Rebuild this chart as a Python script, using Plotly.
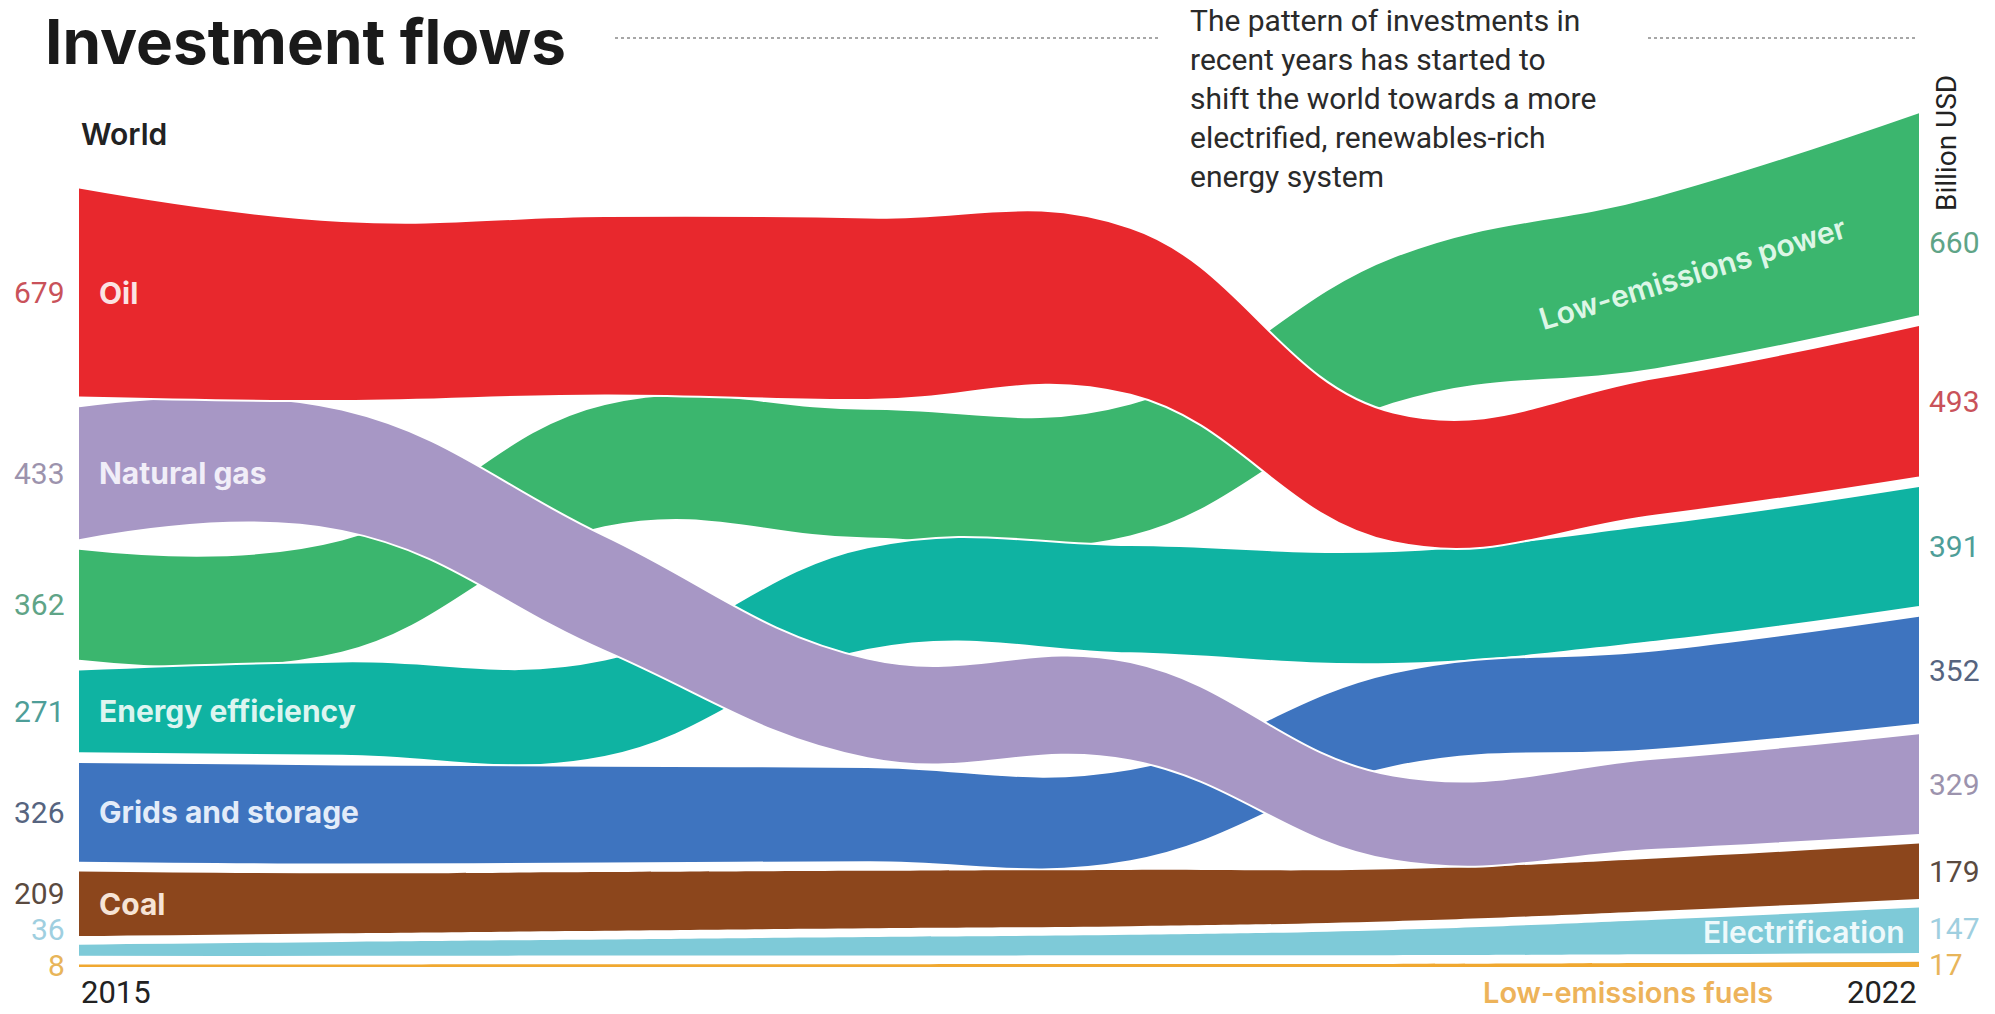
import plotly.graph_objects as go

# ---------------- data (billion USD) ----------------
years = [2015, 2016, 2017, 2018, 2019, 2020, 2021, 2022]

oil = [679, 582, 580, 590, 540, 420, 445, 493]
natural_gas = [433, 392, 372, 322, 318, 275, 295, 329]
low_emissions_power = [362, 366, 398, 420, 430, 475, 560, 660]
energy_efficiency = [271, 305, 315, 332, 350, 365, 380, 391]
grids_and_storage = [326, 324, 316, 308, 298, 305, 322, 352]
coal = [209, 194, 190, 186, 182, 168, 170, 179]
electrification = [36, 45, 52, 60, 66, 82, 112, 147]
low_emissions_fuels = [8, 8, 9, 9, 10, 10, 13, 17]

# stacking order (top to bottom) for each year
order_2015 = ["Oil", "Natural gas", "Low-emissions power", "Energy efficiency",
              "Grids and storage", "Coal", "Electrification", "Low-emissions fuels"]
order_2017 = ["Oil", "Low-emissions power", "Natural gas", "Energy efficiency",
              "Grids and storage", "Coal", "Electrification", "Low-emissions fuels"]
order_2018 = ["Oil", "Low-emissions power", "Energy efficiency", "Natural gas",
              "Grids and storage", "Coal", "Electrification", "Low-emissions fuels"]
order_2020 = ["Low-emissions power", "Oil", "Energy efficiency", "Grids and storage",
              "Natural gas", "Coal", "Electrification", "Low-emissions fuels"]
order_by_year = [order_2015, order_2015, order_2017, order_2018,
                 order_2018, order_2020, order_2020, order_2020]

values = {
    "Oil": oil,
    "Natural gas": natural_gas,
    "Low-emissions power": low_emissions_power,
    "Energy efficiency": energy_efficiency,
    "Grids and storage": grids_and_storage,
    "Coal": coal,
    "Electrification": electrification,
    "Low-emissions fuels": low_emissions_fuels,
}

# ---------------- styles ----------------
colors = {
    "Oil": "#E8282D",
    "Natural gas": "#A797C5",
    "Low-emissions power": "#3BB66E",
    "Energy efficiency": "#0FB3A2",
    "Grids and storage": "#3E74BF",
    "Coal": "#8C461C",
    "Electrification": "#7ECAD8",
    "Low-emissions fuels": "#F0A830",
}
value_colors = {
    "Oil": "#C9525A",
    "Natural gas": "#9C93AD",
    "Low-emissions power": "#5FA487",
    "Energy efficiency": "#4E9E98",
    "Grids and storage": "#56647F",
    "Coal": "#5A4A40",
    "Electrification": "#9FCFE0",
    "Low-emissions fuels": "#E8B55A",
}
label_colors = {
    "Oil": "#FBE3E3",
    "Natural gas": "#F1EEF8",
    "Energy efficiency": "#DDF5F0",
    "Grids and storage": "#E3ECF9",
    "Coal": "#F6E4D6",
    "Low-emissions power": "#DDF6E6",
    "Electrification": "#EEF9FB",
}
outlined = {"Oil", "Natural gas", "Low-emissions power", "Energy efficiency", "Grids and storage"}
draw_order = ["Low-emissions power", "Energy efficiency", "Grids and storage", "Coal",
              "Electrification", "Low-emissions fuels", "Natural gas", "Oil"]

GAP = 28  # gap between stacked ribbons (in value units)

# ---------------- geometry from data ----------------
W, H = 1995, 1014
PL, PR, PT, PB = 79, 1919, 60, 967
PX_PER_UNIT = 0.3093
YMAX = (PB - PT) / PX_PER_UNIT

bottoms = {c: [0.0] * len(years) for c in values}
tops = {c: [0.0] * len(years) for c in values}
for j, order in enumerate(order_by_year):
    y = 0.0
    for c in reversed(order):
        bottoms[c][j] = y
        tops[c][j] = y + values[c][j]
        y = tops[c][j] + GAP


def center(c, j):
    return (bottoms[c][j] + tops[c][j]) / 2


fig = go.Figure()
for c in draw_order:
    lw = 2 if c in outlined else 0
    line = dict(color="white", width=lw, shape="spline", smoothing=1.2)
    fig.add_trace(go.Scatter(x=years, y=tops[c], mode="lines", line=line,
                             hoverinfo="skip", showlegend=False))
    fig.add_trace(go.Scatter(x=years, y=bottoms[c], mode="lines", line=line,
                             fill="tonexty", fillcolor=colors[c],
                             hoverinfo="skip", showlegend=False))


def xp(px):
    return (px - PL) / (PR - PL)


def yp(py):
    return (PB - py) / (PB - PT)


annotations = []

# value labels on both sides
MIN_SEP = 36 / PX_PER_UNIT


def side_labels(j, xanchor, xshift, ymax=None):
    cats = sorted(values.keys(), key=lambda c: center(c, j))
    prev = None
    for c in cats:
        yv = center(c, j)
        if prev is not None and yv < prev + MIN_SEP:
            yv = prev + MIN_SEP
        if ymax is not None:
            yv = min(yv, ymax)
        prev = yv
        annotations.append(dict(x=years[j], y=yv, xref="x", yref="y", text=str(values[c][j]),
                                showarrow=False, xanchor=xanchor, yanchor="middle", xshift=xshift,
                                font=dict(family="Roboto", size=30, color=value_colors[c])))


side_labels(0, "right", -12)
side_labels(len(years) - 1, "left", 8, ymax=(PB - 242) / PX_PER_UNIT)

# band labels at 2015
for c in ["Oil", "Natural gas", "Energy efficiency", "Grids and storage", "Coal"]:
    annotations.append(dict(x=years[0], y=center(c, 0), xref="x", yref="y", text=c,
                            showarrow=False, xanchor="left", yanchor="middle", xshift=18,
                            font=dict(family="Inter", size=30, weight=700, color=label_colors[c])))

# Low-emissions power, rotated, between 2021 and 2022
t = 0.14
lep_y = center("Low-emissions power", 6) * (1 - t) + center("Low-emissions power", 7) * t
annotations.append(dict(x=years[6] + t, y=lep_y, xref="x", yref="y", text="Low-emissions power",
                        showarrow=False, xanchor="center", yanchor="middle", textangle=-17,
                        font=dict(family="Inter", size=30, weight=600, color=label_colors["Low-emissions power"])))

# Electrification label inside band at 2022
annotations.append(dict(x=years[-1], y=center("Electrification", len(years) - 1), xref="x", yref="y",
                        text="Electrification", showarrow=False, xanchor="right", yanchor="middle",
                        xshift=-12, yshift=-2,
                        font=dict(family="Inter", size=30, weight=600, color=label_colors["Electrification"])))

# Low-emissions fuels label below baseline
annotations.append(dict(x=years[-1], y=0, xref="x", yref="y", text="Low-emissions fuels",
                        showarrow=False, xanchor="right", yanchor="middle", xshift=-144, yshift=-25,
                        font=dict(family="Inter", size=29, weight=600, color="#EDB35A")))

# year labels
annotations.append(dict(x=years[0], y=0, xref="x", yref="y", text=str(years[0]), showarrow=False,
                        xanchor="left", yanchor="middle", yshift=-25,
                        font=dict(family="Roboto", size=31, color="#222222")))
annotations.append(dict(x=years[-1], y=0, xref="x", yref="y", text=str(years[-1]), showarrow=False,
                        xanchor="right", yanchor="middle", yshift=-25,
                        font=dict(family="Roboto", size=31, color="#222222")))

# title, subtitle and unit
annotations.append(dict(x=xp(43), y=yp(41), xref="paper", yref="paper", text="Investment flows",
                        showarrow=False, xanchor="left", yanchor="middle",
                        font=dict(family="Inter", size=62, weight=700, color="#1A1A1A")))
annotations.append(dict(x=xp(79), y=yp(134), xref="paper", yref="paper", text="World",
                        showarrow=False, xanchor="left", yanchor="middle",
                        font=dict(family="Inter", size=30, weight=600, color="#222222")))
subtitle = ("The pattern of investments in<br>recent years has started to<br>"
            "shift the world towards a more<br>electrified, renewables-rich<br>energy system")
annotations.append(dict(x=xp(1188), y=yp(1), xref="paper", yref="paper", text=subtitle,
                        showarrow=False, xanchor="left", yanchor="top", align="left",
                        font=dict(family="Roboto", size=30, color="#2A2A2A")))
annotations.append(dict(x=xp(1947), y=yp(143), xref="paper", yref="paper", text="Billion USD",
                        showarrow=False, xanchor="center", yanchor="middle", textangle=-90,
                        font=dict(family="Roboto", size=28, color="#222222")))

shapes = [
    dict(type="line", xref="paper", yref="paper", x0=xp(615), x1=xp(1160), y0=yp(38), y1=yp(38),
         line=dict(color="#8A8A8A", width=1.5, dash="dot")),
    dict(type="line", xref="paper", yref="paper", x0=xp(1648), x1=xp(1915), y0=yp(38), y1=yp(38),
         line=dict(color="#8A8A8A", width=1.5, dash="dot")),
]

fig.update_layout(
    width=W, height=H,
    margin=dict(l=PL, r=W - PR, t=PT, b=H - PB, pad=0),
    paper_bgcolor="white", plot_bgcolor="white",
    xaxis=dict(range=[years[0], years[-1]], visible=False, fixedrange=True),
    yaxis=dict(range=[0, YMAX], visible=False, fixedrange=True),
    annotations=annotations,
    shapes=shapes,
    showlegend=False,
)

fig.write_html("out.html")
